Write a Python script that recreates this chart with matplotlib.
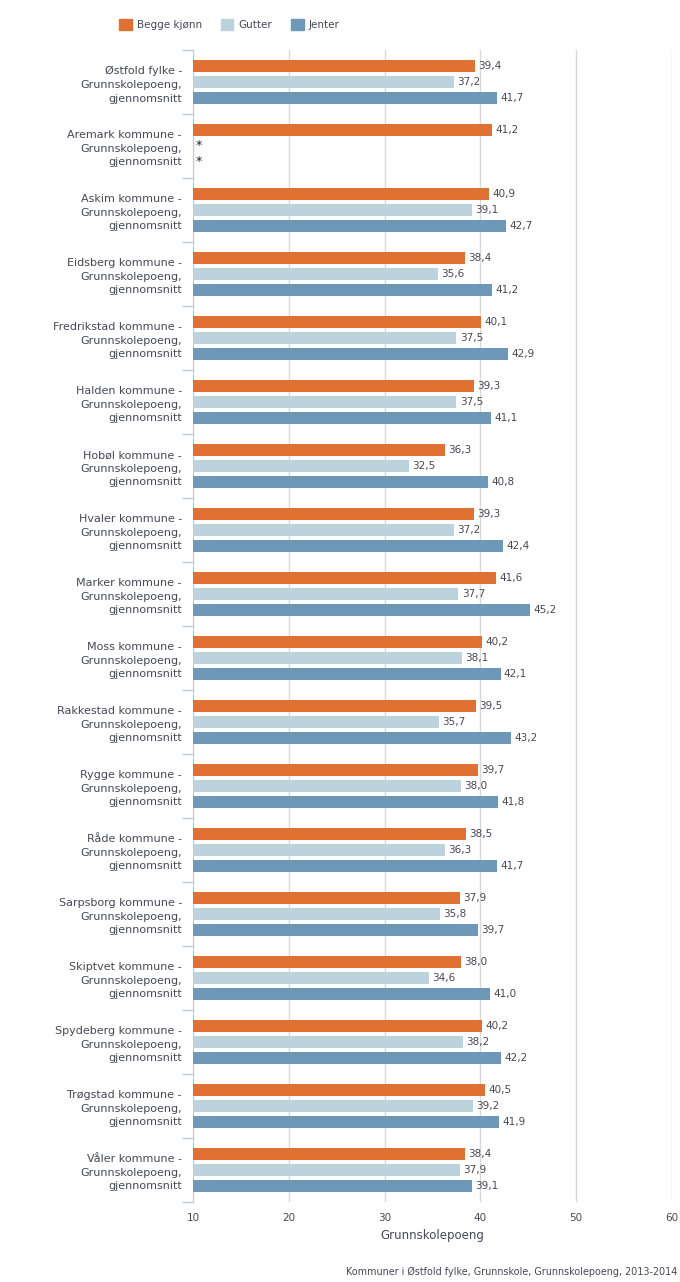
import matplotlib
matplotlib.use("Agg")
import matplotlib.pyplot as plt
import numpy as np

categories = ["Østfold fylke", "Aremark kommune", "Askim kommune", "Eidsberg kommune",
              "Fredrikstad kommune", "Halden kommune", "Hobøl kommune", "Hvaler kommune",
              "Marker kommune", "Moss kommune", "Rakkestad kommune", "Rygge kommune",
              "Råde kommune", "Sarpsborg kommune", "Skiptvet kommune", "Spydeberg kommune",
              "Trøgstad kommune", "Våler kommune"]
begge = [39.4, 41.2, 40.9, 38.4, 40.1, 39.3, 36.3, 39.3, 41.6, 40.2, 39.5, 39.7, 38.5, 37.9, 38.0, 40.2, 40.5, 38.4]
gutter = [37.2, None, 39.1, 35.6, 37.5, 37.5, 32.5, 37.2, 37.7, 38.1, 35.7, 38.0, 36.3, 35.8, 34.6, 38.2, 39.2, 37.9]
jenter = [41.7, None, 42.7, 41.2, 42.9, 41.1, 40.8, 42.4, 45.2, 42.1, 43.2, 41.8, 41.7, 39.7, 41.0, 42.2, 41.9, 39.1]
series_names = ["Begge kjønn", "Gutter", "Jenter"]
colors = ["#E07133", "#BAD3DD", "#6E98B8"]
xticks = [10, 20, 30, 40, 50, 60]

plt.rcParams['font.family'] = ['DejaVu Sans']
txt = "#474757"

fig = plt.figure(figsize=(6.8, 12.82), dpi=100)
W, H = 680, 1282
ax = fig.add_axes([193 / W, 1 - 1202 / H, (672 - 193) / W, (1202 - 50) / H])

n = len(categories)
y = np.arange(n)
h = 0.2
offs = [-0.25, 0, 0.25]
for s, (vals, c, name) in enumerate(zip([begge, gutter, jenter], colors, series_names)):
    for i, v in enumerate(vals):
        yy = y[i] + offs[s]
        if v is None:
            ax.text(10.3, yy, "*", va="center", ha="left", fontsize=9, color="#222222")
            continue
        ax.barh(yy, v - 10, left=10, height=h, color=c, zorder=3)
        ax.text(v + 0.35, yy, f"{v:.1f}".replace(".", ","), va="center", ha="left",
                fontsize=7.5, color=txt, zorder=4)

ax.set_xlim(10, 60)
ax.set_ylim(n - 0.5, -0.5)
ax.set_xticks(xticks)
ax.set_xticklabels([str(t) for t in xticks], fontsize=7.5, color=txt)
ax.tick_params(axis='x', length=0, pad=8)
ax.grid(axis='x', color="#D8D8D8", linewidth=1, zorder=0)
ax.set_yticks(y)
ax.set_yticklabels([f"{c} -\nGrunnskolepoeng,\ngjennomsnitt" for c in categories],
                   fontsize=8, color=txt, linespacing=1.45)
ax.tick_params(axis='y', length=0, pad=8)
ax.set_yticks(np.arange(-0.5, n + 0.5, 1), minor=True)
ax.tick_params(axis='y', which='minor', length=8, color="#B8CCE0", width=1)
for sp in ["top", "right", "bottom"]:
    ax.spines[sp].set_visible(False)
ax.spines["left"].set_color("#B8CCE0")
ax.set_xlabel("Grunnskolepoeng", fontsize=8.5, color=txt, labelpad=4)

# legend
handles = [plt.Rectangle((0, 0), 1, 1, color=c) for c in colors]
fig.legend(handles, series_names, loc="upper left", bbox_to_anchor=(110 / W, 1 - 10 / H),
           ncol=3, frameon=False, fontsize=7.5, handlelength=1.2, handleheight=1.2,
           columnspacing=1.8, handletextpad=0.5, labelcolor=txt)

fig.text(677 / W, 1 - 1277 / H, "Kommuner i Østfold fylke, Grunnskole, Grunnskolepoeng, 2013-2014",
         ha="right", va="bottom", fontsize=6.9, color=txt)

fig.savefig("out.png", dpi=100)
